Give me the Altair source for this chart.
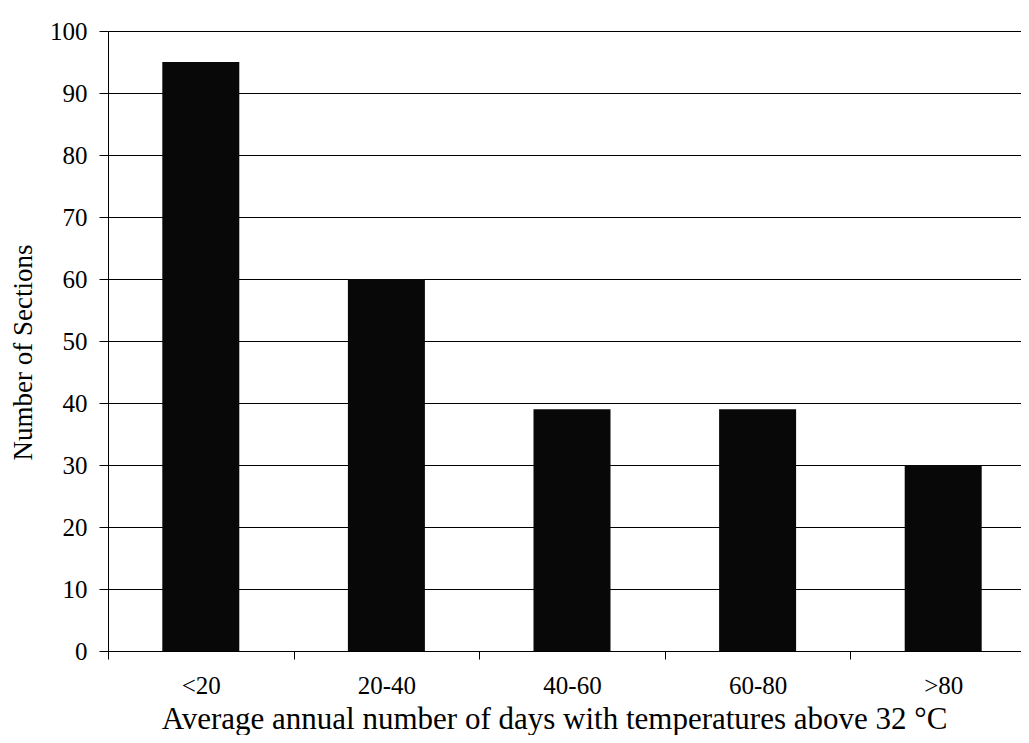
import altair as alt
import pandas as pd

categories = ["<20", "20-40", "40-60", "60-80", ">80"]
sections = [95, 60, 39, 39, 30]
y_ticks = [0, 10, 20, 30, 40, 50, 60, 70, 80, 90, 100]

df = pd.DataFrame({"cat": categories, "val": sections})

FONT = "Liberation Serif"

chart = alt.Chart(df).mark_bar(size=77, color="#080808").encode(
    x=alt.X(
        "cat:N",
        sort=categories,
        scale=alt.Scale(range=[0, 928], paddingInner=0, paddingOuter=0),
        axis=alt.Axis(
            title="Average annual number of days with temperatures above 32 °C",
            labelAngle=0,
            tickBand="extent",
            grid=False,
            domainColor="black",
            tickColor="black",
            tickSize=8,
            labelFont=FONT,
            labelFontSize=25,
            labelColor="black",
            labelPadding=14,
            titleFont=FONT,
            titleFontSize=31,
            titleFontWeight="normal",
            titleColor="black",
            titlePadding=6,
            titleX=446,
        ),
    ),
    y=alt.Y(
        "val:Q",
        scale=alt.Scale(domain=[0, 100]),
        axis=alt.Axis(
            title="Number of Sections",
            values=y_ticks,
            grid=True,
            gridColor="black",
            gridWidth=1,
            gridOpacity=1,
            domainColor="black",
            tickColor="black",
            tickSize=9,
            labelFont=FONT,
            labelFontSize=25,
            labelColor="black",
            labelPadding=12,
            titleFont=FONT,
            titleFontSize=27,
            titleFontWeight="normal",
            titleColor="black",
            titlePadding=12,
            titleY=321,
        ),
    ),
).properties(
    width=913,
    height=620,
    autosize=alt.AutoSizeParams(type="none"),
    padding={"left": 100, "top": 23, "right": 0, "bottom": 84},
).configure_view(stroke=None)

chart.save("out.html", embed_options={"renderer": "svg", "actions": False})
